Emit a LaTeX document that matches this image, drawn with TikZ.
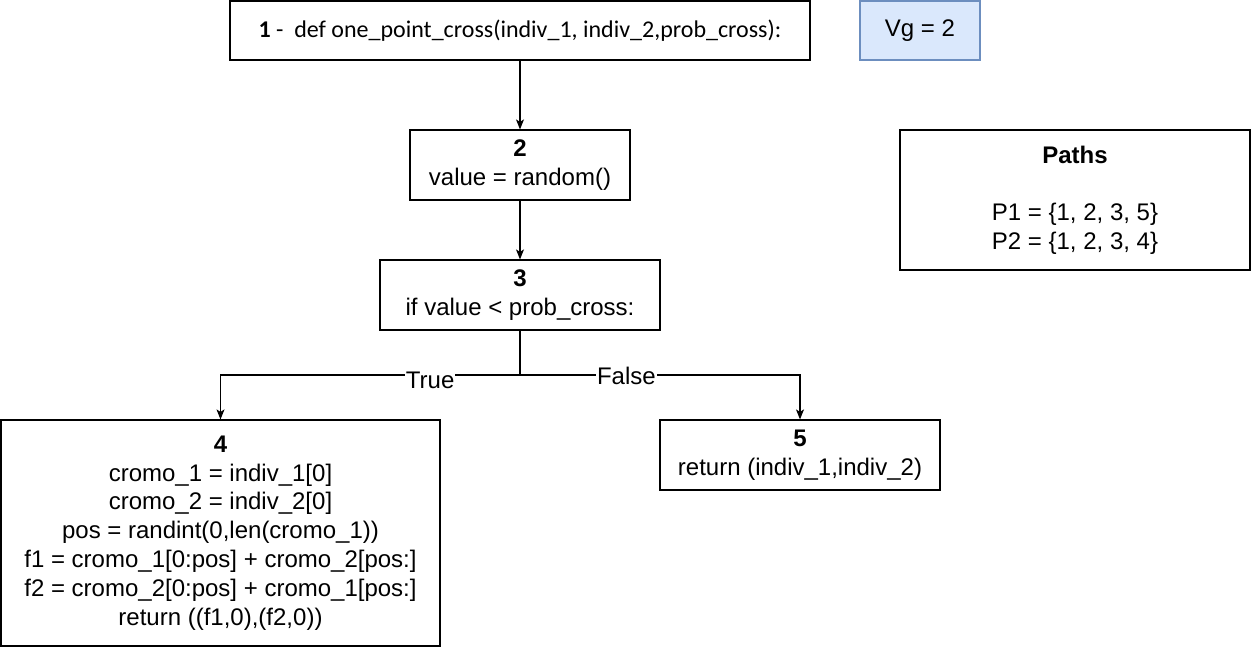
\documentclass[tikz,border=0pt]{standalone}
\usepackage{fontspec}
\setmainfont{Liberation Sans}
\newfontfamily\calib{Carlito}
\usetikzlibrary{arrows.meta}
\definecolor{vgfill}{HTML}{DAE8FC}
\definecolor{vgdraw}{HTML}{6C8EBF}
\begin{document}
\begin{tikzpicture}[x=1pt,y=-1pt,
  box/.style={draw=black, line width=1.2pt, fill=white, inner sep=0pt, align=center, font=\fontsize{24}{28.8}\selectfont},
  conn/.style={line width=1.2pt, -{Stealth[length=10pt,width=8pt,inset=2.5pt]}},
  elabel/.style={fill=white, inner sep=1pt, font=\fontsize{24}{28.8}\selectfont}]
\useasboundingbox (0,0) rectangle (1251,647);
\node[box, minimum width=580pt, minimum height=59pt, font=\calib\fontsize{24}{28.8}\selectfont] (n1) at (520,30.5) {\textbf{1} -\ \ def one\_point\_cross(indiv\_1, indiv\_2,prob\_cross):};
\node[box, fill=vgfill, draw=vgdraw, minimum width=120pt, minimum height=59pt] (vg) at (920,30.5) {Vg = 2};
\node[box, minimum width=220pt, minimum height=70pt] (n2) at (520,165) {\textbf{2}\\value = random()};
\node[box, minimum width=280pt, minimum height=70pt] (n3) at (520,295) {\textbf{3}\\if value < prob\_cross:};
\node[box, minimum width=439pt, minimum height=226pt] (n4) at (220.5,533) {\textbf{4}\\cromo\_1 = indiv\_1[0]\\cromo\_2 = indiv\_2[0]\\pos = randint(0,len(cromo\_1))\\f1 = cromo\_1[0:pos] + cromo\_2[pos:]\\f2 = cromo\_2[0:pos] + cromo\_1[pos:]\\return ((f1,0),(f2,0))};
\node[box, minimum width=280pt, minimum height=70pt] (n5) at (800,455) {\textbf{5}\\return (indiv\_1,indiv\_2)};
\node[box, minimum width=350pt, minimum height=140pt] (paths) at (1075,200) {\textbf{Paths}\\ \\P1 = \{1, 2, 3, 5\}\\P2 = \{1, 2, 3, 4\}};
\draw[conn] (n1) -- (n2);
\draw[conn] (n2) -- (n3);
\coordinate (split) at (520,375);
\draw[conn] (n3.south) -- (split) -| node[elabel, pos=0.15, yshift=-5pt] {True} (n4.north);
\draw[conn] (n3.south) -- (split) -| node[elabel, pos=0.19, yshift=-1pt] {False} (n5.north);
\end{tikzpicture}
\end{document}
